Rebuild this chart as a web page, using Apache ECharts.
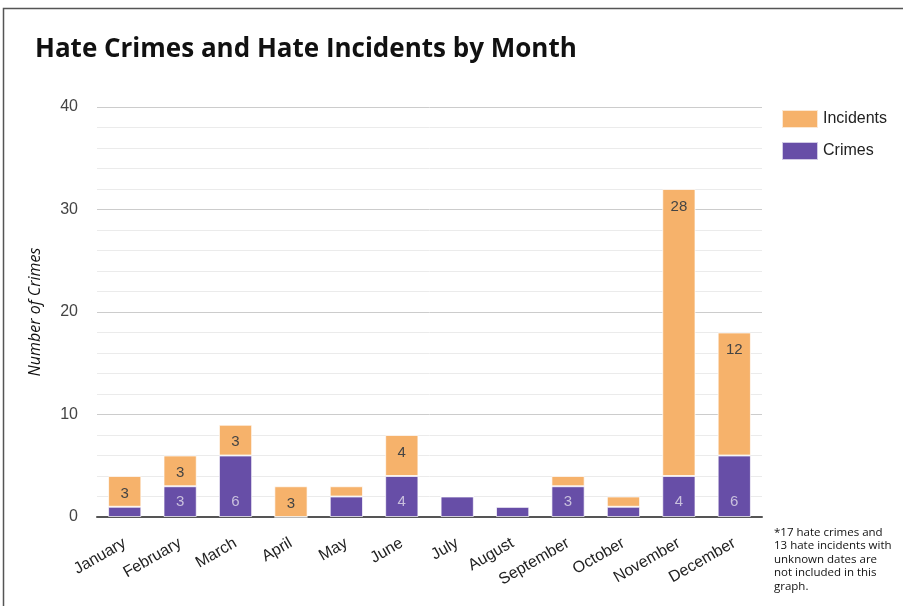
<!DOCTYPE html>
<html><head><meta charset="utf-8">
<script src="https://cdn.jsdelivr.net/npm/echarts@6/dist/echarts.min.js"></script>
<style>html,body{margin:0;padding:0;background:#fff}#c{width:903px;height:606px}</style>
</head><body><div id="c"></div>
<script>
const months = ['January','February','March','April','May','June','July','August','September','October','November','December'];
const crimes = [1,3,6,0,2,4,2,1,3,1,4,6];
const incidents = [3,3,3,3,1,4,0,0,1,1,28,12];
const yTicks = [0,10,20,30,40];
const footnote = ['*17 hate crimes and','13 hate incidents with','unknown dates are','not included in this','graph.'];

const chart = echarts.init(document.getElementById('c'));
const ORANGE = '#F6B26B', PURPLE = '#674EA7';
chart.setOption({
  animation:false,
  backgroundColor:'#fff',
  title:{text:'Hate Crimes and Hate Incidents by Month',left:30,top:32,
    textStyle:{fontFamily:'Open Sans',fontWeight:'bold',fontSize:26,color:'#111'}},
  legend:{data:['Incidents','Crimes'],orient:'vertical',left:776,top:104,itemWidth:36,itemHeight:18,itemGap:12,
    icon:'rect',textStyle:{fontFamily:'Arial, Liberation Sans',fontSize:16,color:'#222'}},
  grid:{left:97,right:141,top:107,bottom:89,containLabel:false},
  xAxis:{type:'category',data:months,
    axisLine:{lineStyle:{color:'#555',width:2}},axisTick:{show:false},
    axisLabel:{rotate:30,fontFamily:'Arial, Liberation Sans',fontSize:16,color:'#222',margin:25,interval:0}},
  yAxis:{type:'value',min:yTicks[0],max:yTicks[yTicks.length-1],interval:10,
    name:'Number of Crimes',nameLocation:'middle',nameGap:54,
    nameTextStyle:{fontFamily:'Open Sans',fontStyle:'italic',fontSize:16,color:'#111'},
    axisLine:{show:false},axisTick:{show:false},
    axisLabel:{fontFamily:'Arial, Liberation Sans',fontSize:16,color:'#444',margin:19},
    splitLine:{lineStyle:{color:'#ccc'}},
    minorTick:{show:false,splitNumber:5},
    minorSplitLine:{show:true,lineStyle:{color:'#ebebeb'}}},
  series:[
    {name:'Crimes',type:'bar',stack:'s',data:crimes,barWidth:'60%',
      itemStyle:{color:PURPLE,borderColor:'rgba(255,255,255,0.7)',borderWidth:1},
      label:{show:true,position:'insideBottom',distance:8,fontFamily:'Arial, Liberation Sans',fontSize:15,color:'#c9c0dd',
        formatter:p=>p.value>=3?p.value:''}},
    {name:'Incidents',type:'bar',stack:'s',data:incidents,barWidth:'60%',
      itemStyle:{color:ORANGE,borderColor:'rgba(255,255,255,0.7)',borderWidth:1},
      label:{show:true,position:'insideTop',distance:10,fontFamily:'Arial, Liberation Sans',fontSize:15,color:'#444',
        formatter:p=>p.value>=3?p.value:''}}
  ],
  graphic:[
    {type:'rect',shape:{x:3.5,y:8.5,width:960,height:700},style:{fill:'none',stroke:'#555',lineWidth:1.5},silent:true},
    {type:'text',left:774,top:526,style:{text:footnote.join('\n'),fontFamily:'Open Sans',fontSize:11.5,lineHeight:13.4,fill:'#111'}}
  ]
});
</script></body></html>
